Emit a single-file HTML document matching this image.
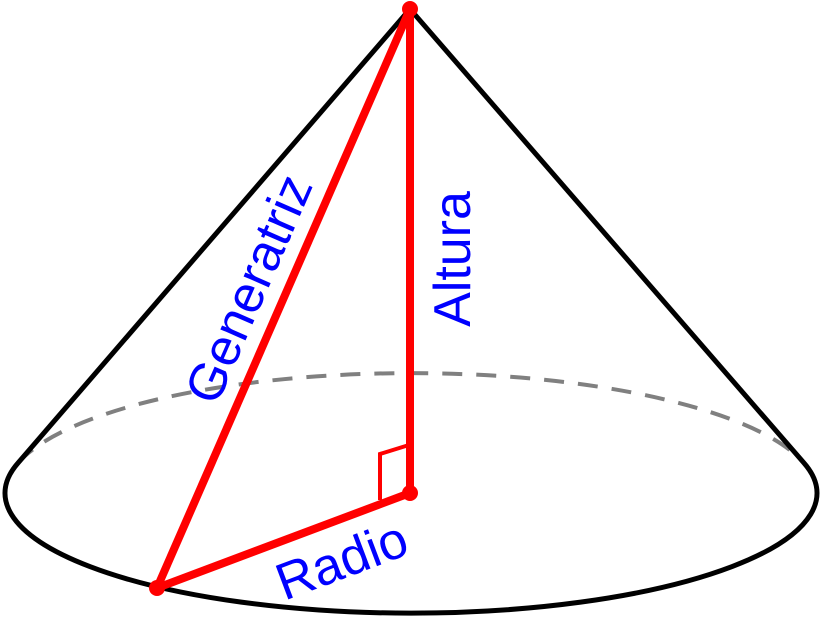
<!DOCTYPE html>
<html><head><style>html,body{margin:0;padding:0;background:#fff}</style></head>
<body>
<svg width="822" height="618" xmlns="http://www.w3.org/2000/svg">
<path d="M18,463 A406,120 0 0 1 804,463" fill="none" stroke="#808080" stroke-width="4" stroke-dasharray="20,14"/>
<path d="M410,9 L18,463 A406,120 0 1 0 804,463 Z" fill="none" stroke="#000" stroke-width="5" stroke-linejoin="round"/>
<polyline points="380,500 380,454 409,445" fill="none" stroke="#f00" stroke-width="4"/>
<line x1="410" y1="9" x2="410" y2="493" stroke="#f00" stroke-width="8"/>
<line x1="410" y1="9" x2="157" y2="588" stroke="#f00" stroke-width="8"/>
<line x1="410" y1="493" x2="157" y2="588" stroke="#f00" stroke-width="8"/>
<circle cx="410" cy="9" r="8" fill="#f00"/>
<circle cx="410" cy="493" r="8" fill="#f00"/>
<circle cx="157" cy="588" r="8" fill="#f00"/>
<g font-family="Liberation Sans, sans-serif" font-size="52" fill="#00f" text-anchor="middle">
<text transform="translate(265,296) rotate(-66.4)">Generatriz</text>
<text transform="translate(470,259) rotate(-90)">Altura</text>
<text transform="translate(348,577) rotate(-20.6)">Radio</text>
</g>
</svg>
</body></html>
